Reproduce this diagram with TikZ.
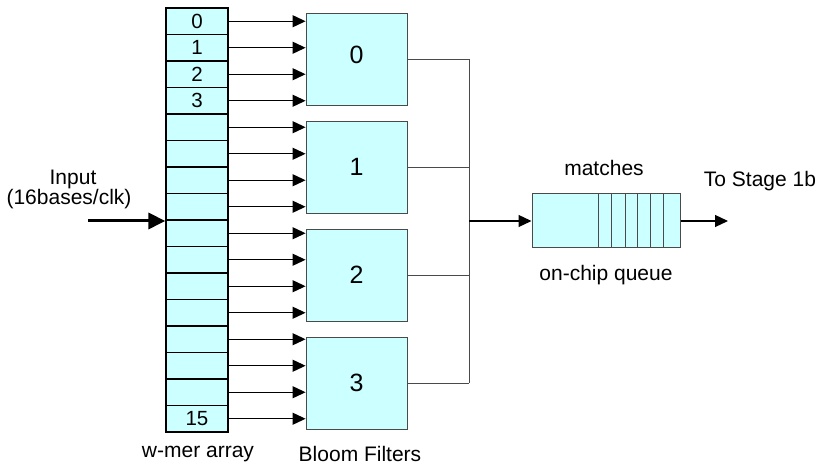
\documentclass[tikz,border=0pt]{standalone}
\usepackage{fontspec}
\setmainfont{Liberation Sans}
\usetikzlibrary{arrows.meta,calc}
\definecolor{cellfill}{HTML}{CCFFFF}
\definecolor{edgegray}{HTML}{4A4A4A}
\tikzset{
  cell/.style={draw=black,line width=1.2pt,fill=cellfill,minimum width=62pt,minimum height=26.5pt,inner sep=0pt,font=\fontsize{20.5}{20}\selectfont},
  filt/.style={draw=edgegray,line width=0.9pt,fill=cellfill,minimum width=101pt,minimum height=92pt,inner sep=0pt,font=\fontsize{25}{25}\selectfont},
  queuebox/.style={draw=edgegray,line width=1pt,fill=cellfill,minimum width=148pt,minimum height=54pt,inner sep=0pt},
  feed/.style={draw=black,line width=1.2pt,-{Triangle[length=13pt,width=12pt]}},
  bus/.style={draw=edgegray,line width=0.9pt},
  thickin/.style={draw=black,line width=3pt,-{Triangle[length=17pt,width=16pt]}},
  lbl/.style={font=\fontsize{21}{24}\selectfont,inner sep=0pt,align=center}
}
\begin{document}
\begin{tikzpicture}[x=1pt,y=-1pt]
\useasboundingbox (0,0) rectangle (820,470);
% w-mer array: sixteen cells
\foreach \i in {0,...,15}{
  \node[cell] (c\i) at (197,{21.25+26.5*\i}) {};
}
\node[font=\fontsize{20.5}{20}\selectfont] at (c0) {0};
\node[font=\fontsize{20.5}{20}\selectfont] at (c1) {1};
\node[font=\fontsize{20.5}{20}\selectfont] at (c2) {2};
\node[font=\fontsize{20.5}{20}\selectfont] at (c3) {3};
\node[font=\fontsize{20.5}{20}\selectfont] at (c15) {15};
% Bloom filters
\node[filt] (f0) at (356.5,59.5) {\raisebox{10pt}{0}};
\node[filt] (f1) at (356.5,167) {1};
\node[filt] (f2) at (356.5,275) {2};
\node[filt] (f3) at (356.5,383) {3};
% feeds from the array into the filters
\foreach \i in {0,...,15}{
  \pgfmathtruncatemacro{\j}{int(\i/4)}
  \draw[feed] (c\i.east) -- (f\j.west |- c\i.east);
}
% input
\coordinate (inp) at (88,221);
\draw[thickin] (inp) -- (inp -| c0.west);
\node[lbl] at (73,179) {Input};
\node[lbl] at (69,199) {(16bases/clk)};
% OR bus to the queue
\coordinate (bx) at (469,221);
\foreach \j in {0,...,3}{
  \draw[bus] (f\j.east) -- (f\j.east -| bx);
}
\draw[bus] (f0.east -| bx) -- (f3.east -| bx);
\node[queuebox] (q) at (606,221) {};
\draw[feed] (bx) -- (q.west);
\foreach \d in {67,80,94,106,119,132}{
  \draw[edgegray,line width=0.9pt] ($(q.north west)+(\d,0)$) -- ($(q.south west)+(\d,0)$);
}
\coordinate (out) at (728,221);
\draw[feed] (q.east) -- (out);
\node[lbl] at (604,168) {matches};
\node[lbl] at (606,275) {on-chip queue};
\node[lbl] at (760,181) {To Stage 1b};
% captions
\node[lbl] at (198,454) {w-mer array};
\node[lbl] at (360,454) {Bloom Filters};
\end{tikzpicture}
\end{document}
